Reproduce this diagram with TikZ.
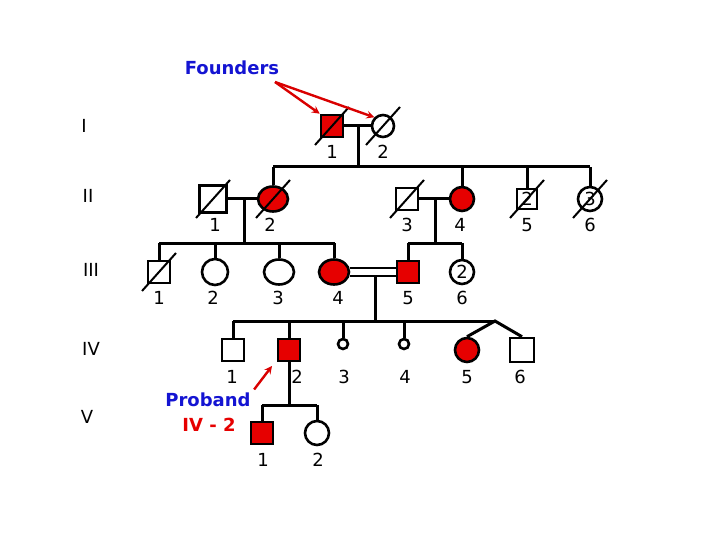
\documentclass[tikz,border=0pt]{standalone}
\usepackage{fontspec}
\setmainfont{DejaVu Sans}
\usetikzlibrary{positioning,shapes.geometric}
\definecolor{affred}{RGB}{230,0,0}
\definecolor{labblue}{RGB}{20,20,210}
\tikzset{
  male/.style={draw,line width=2.6pt,minimum size=22pt,inner sep=0pt},
  female/.style={draw,circle,line width=2.6pt,minimum size=24pt,inner sep=0pt},
  oval/.style={draw,ellipse,line width=2.6pt,minimum width=30pt,minimum height=25pt,inner sep=0pt},
  aff/.style={fill=affred},
  num/.style={font=\fontsize{18}{18}\selectfont},
  gen/.style={font=\fontsize{18}{18}\selectfont},
  line/.style={line width=3pt},
  note/.style={->,>=stealth,red!85!black,line width=2.4pt}
}
\newcommand{\dead}[1]{\draw[line width=2pt] ([shift={(-17pt,-19pt)}]#1.center) -- ([shift={(17pt,19pt)}]#1.center);}
\begin{document}
\begin{tikzpicture}[x=1pt,y=-1pt]
\useasboundingbox (0,0) rectangle (720,540);
% generation labels
\node[gen] (gI) at (84,126) {I};
\node[gen] (gII) at (88,196) {II};
\node[gen] (gIII) at (91,270) {III};
\node[gen] (gIV) at (91,349) {IV};
\node[gen] (gV) at (87,417) {V};
% generation I
\node[male,aff] (i1) at (332,126) {};
\node[female,minimum size=22pt] (i2) at (383,126) {};
\node[num] at (332,152) {1};
\node[num] at (383,152) {2};
\dead{i1} \dead{i2}
\draw[line] (i1.east) -- (i2.west);
\coordinate (mI) at (358,126);
\coordinate (sI) at (358,167);
\draw[line] (mI) -- (sI);
\draw[line] (273,167) -- (590,167);
% generation II
\node[male,minimum size=27pt] (ii1) at (213,199) {};
\node[oval,aff] (ii2) at (273,199) {};
\node[male] (ii3) at (407,199) {};
\node[female,aff] (ii4) at (462,199) {};
\node[male,minimum size=20pt,num] (ii5) at (527,199) {2};
\node[female,num] (ii6) at (590,199) {3};
\foreach \n/\x in {1/215,2/270,3/407,4/460,5/527,6/590}
  \node[num] at (\x,225) {\n};
\foreach \s in {ii1,ii2,ii3,ii5,ii6} {\dead{\s}}
\foreach \s in {ii2,ii4,ii5,ii6} \draw[line] (\s.north) -- (\s.north |- sI);
\draw[line] (ii1.east) -- (ii2.west);
\draw[line] (ii3.east) -- (ii4.west);
\draw[line] (244,199) -- (244,243);
\draw[line] (435,199) -- (435,243);
\draw[line] (159,243) -- (335,243);
\draw[line] (408,243) -- (462,243);
% generation III
\node[male] (iii1) at (159,272) {};
\node[female,minimum size=26pt] (iii2) at (215,272) {};
\node[oval] (iii3) at (279,272) {};
\node[oval,aff] (iii4) at (334,272) {};
\node[male,aff] (iii5) at (408,272) {};
\node[female,num] (iii6) at (462,272) {2};
\foreach \n/\x in {1/159,2/213,3/278,4/338,5/408,6/462}
  \node[num] at (\x,298) {\n};
\dead{iii1}
\foreach \s in {iii1,iii2,iii3,iii4} \draw[line] (\s.north) -- (\s.north |- 0,243);
\foreach \s in {iii5,iii6} \draw[line] (\s.north) -- (\s.north |- 0,243);
\draw[line width=2.6pt] (iii4.east |- 0,268) -- (iii5.west |- 0,268);
\draw[line width=2.6pt] (iii4.east |- 0,276) -- (iii5.west |- 0,276);
\draw[line] (375,276) -- (375,321);
\draw[line] (233,321) -- (495,321);
% generation IV
\node[male] (iv1) at (233,350) {};
\node[male,aff] (iv2) at (289,350) {};
\node[draw,circle,line width=2.6pt,minimum size=10pt,inner sep=0pt] (iv3) at (343,344) {};
\node[draw,circle,line width=2.6pt,minimum size=10pt,inner sep=0pt] (iv4) at (404,344) {};
\node[female,aff] (iv5) at (467,350) {};
\node[male,minimum size=24pt] (iv6) at (522,350) {};
\foreach \n/\x in {1/232,2/297,3/344,4/405,5/467,6/520}
  \node[num] at (\x,377) {\n};
\foreach \s in {iv1,iv2,iv3,iv4} \draw[line] (\s.north) -- (\s.north |- 0,321);
\coordinate (tw) at (495,321);
\draw[line] (iv5.north) -- (tw) -- (iv6.north);
\draw[line] (iv2.south) -- (289,405);
\draw[line] (262,405) -- (317,405);
% generation V
\node[male,aff] (v1) at (262,433) {};
\node[female] (v2) at (317,433) {};
\node[num] at (263,460) {1};
\node[num] at (318,460) {2};
\foreach \s in {v1,v2} \draw[line] (\s.north) -- (\s.north |- 0,405);
% annotations
\node[font=\fontsize{18}{18}\selectfont\bfseries,text=labblue] (fd) at (232,68) {Founders};
\draw[note] (275,82) -- (i1.north west);
\draw[note] (275,82) -- (i2.north west);
\node[font=\fontsize{18}{18}\selectfont\bfseries,text=labblue] (pb) at (208,400) {Proband};
\node[font=\fontsize{18}{18}\selectfont\bfseries,text=affred] (pl) at (209,425) {IV - 2};
\coordinate (pt) at (272,366);
\draw[note] (pb.north east) -- (pt);
\end{tikzpicture}
\end{document}
